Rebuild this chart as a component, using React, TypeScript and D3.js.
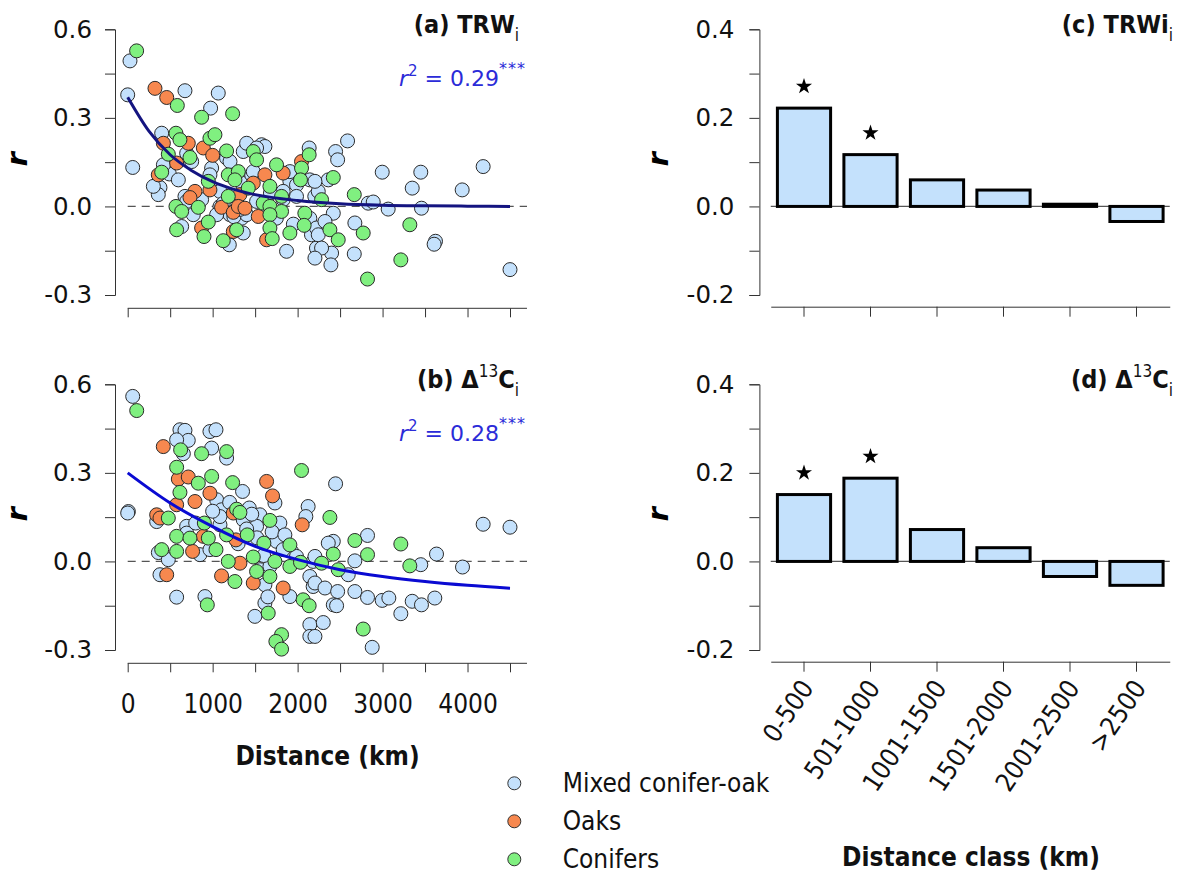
import { useEffect, useRef } from 'react';
import * as d3 from 'd3';

// panel (a) TRWi, distance (km) vs r
const trwMixed = [
  [27, 0.493], [0, 0.378], [59, 0.132], [674, 0.392], [1066, 0.384], [976, 0.333], [400, 0.248], [753, 0.152],
  [988, 0.13], [490, 0.11], [596, 0.09], [380, 0.064], [360, 0.04], [1164, 0.164], [1360, 0.186], [1576, 0.209],
  [1400, 0.214], [1341, 0.079], [1909, 0.085], [2136, 0.198], [2144, 0.09], [674, 0.034], [1517, 0.017],
  [1870, -0.152], [2163, -0.096], [2222, -0.141], [2202, 0.034], [635, -0.068], [1196, -0.13], [1360, -0.09],
  [1164, -0.017], [968, 0.107], [1086, 0.051], [1459, 0.107], [1615, 0.203], [1086, 0.0], [1204, -0.028],
  [1341, -0.04], [1830, 0.051], [1987, 0.073], [420, 0.141], [302, 0.068], [694, 0.017], [870, 0.023],
  [1987, 0.034], [2144, -0.04], [2222, -0.073], [772, -0.028], [1047, -0.028], [1400, -0.028], [1478, 0.118],
  [1909, 0.118], [1204, 0.152], [694, 0.18], [1125, 0.01], [1250, -0.035], [1320, -0.01], [1830, 0.023],
  [1517, 0.198], [1680, 0.045], [1750, -0.04], [1950, -0.06],
  [2588, 0.222], [2447, 0.186], [2471, 0.158], [2361, 0.09], [2243, 0.051], [2204, 0.085], [2996, 0.116],
  [3450, 0.116], [3349, 0.062], [3937, 0.056], [4184, 0.135], [2831, 0.011], [2890, 0.015], [3066, -0.009],
  [3458, -0.006], [2674, -0.056], [2400, -0.158], [2392, -0.198], [2667, -0.161], [3623, -0.118],
  [3607, -0.128], [4500, -0.214], [2420, -0.023], [2322, -0.051], [2243, -0.096], [2282, -0.141], [2204, -0.175],
];
const trwOaks = [
  [321, 0.4], [459, 0.369], [420, 0.214], [713, 0.214], [890, 0.198], [1000, 0.173], [576, 0.147], [360, 0.107],
  [1478, 0.079], [1615, 0.107], [1830, 0.113], [2046, 0.152], [792, 0.051], [733, 0.03], [968, 0.056],
  [1105, -0.003], [1243, -0.02], [1321, 0.04], [1302, 0.0], [1380, -0.006], [1537, -0.034], [1635, -0.113],
  [870, -0.073], [1243, -0.085],
];
const trwConifers = [
  [105, 0.527], [584, 0.342], [870, 0.302], [1235, 0.314], [568, 0.248], [615, 0.226], [733, 0.166], [968, 0.231],
  [1027, 0.243], [478, 0.177], [400, 0.116], [1164, 0.188], [1478, 0.186], [1517, 0.158], [1184, 0.107],
  [1302, 0.118], [1262, 0.09], [1752, 0.141], [1674, 0.068], [2136, 0.175], [2046, 0.13], [2034, 0.09],
  [949, 0.085], [1184, 0.034], [1419, 0.062], [1595, 0.011], [1674, 0.0], [1811, 0.034], [1811, -0.017],
  [1674, -0.028], [1674, -0.073], [1701, -0.109], [1909, -0.09], [2085, -0.023], [2077, -0.064], [568, 0.0],
  [635, -0.017], [831, -0.003], [576, -0.079], [949, -0.053], [898, -0.102], [1125, -0.116], [1282, -0.079],
  [2420, 0.098], [2667, 0.04], [2282, 0.023], [3321, -0.062], [2772, -0.09], [2380, -0.079], [2478, -0.113],
  [3215, -0.181], [2823, -0.246],
];
const trwFitKm = [0, 250, 500, 750, 1000, 1250, 1500, 2000, 2500, 3000, 3500, 4000, 4500];
const trwFitR = [0.37, 0.255, 0.175, 0.122, 0.084, 0.058, 0.04, 0.02, 0.009, 0.004, 0.002, 0.001, 0.0];

// panel (b) D13Ci
const d13Mixed = [
  [59, 0.559], [8, 0.169], [0, 0.164], [615, 0.446], [674, 0.444], [713, 0.41], [576, 0.412], [968, 0.44],
  [1039, 0.446], [655, 0.365], [988, 0.384], [1164, 0.35], [1733, 0.198], [1352, 0.237], [2124, 0.186],
  [2097, 0.152], [1047, 0.209], [1105, 0.175], [1431, 0.181], [1556, 0.158], [1791, 0.13], [341, 0.135],
  [694, 0.119], [1086, 0.124], [1752, 0.068], [1928, 0.034], [361, 0.03], [478, 0.006], [850, 0.023],
  [2183, 0.0], [380, -0.045], [1615, -0.079], [576, -0.121], [909, -0.119], [1615, -0.141], [1497, -0.186],
  [2144, -0.214], [2144, -0.254], [1909, -0.119], [1086, 0.152], [1360, 0.141], [1517, 0.119], [1830, 0.04],
  [1987, 0.017], [2144, -0.051], [2183, -0.085], [1556, -0.028], [1674, -0.017], [968, 0.04], [694, 0.096],
  [1400, 0.11], [1460, 0.16], [1520, 0.08], [1600, 0.02], [1700, 0.1], [1850, 0.09], [1650, -0.12],
  [1300, 0.06], [1000, 0.17], [800, 0.13], [1200, 0.2],
  [2447, 0.263], [2420, 0.068], [2361, 0.062], [2823, 0.088], [2674, 0.002], [2596, -0.045], [2204, 0.017],
  [3450, -0.011], [3635, 0.025], [3941, -0.019], [4184, 0.126], [4500, 0.116], [2204, -0.073], [2322, -0.09],
  [2471, -0.102], [2420, -0.147], [2459, -0.15], [2674, -0.102], [2823, -0.122], [2996, -0.132], [3074, -0.124],
  [3215, -0.177], [3349, -0.135], [3458, -0.147], [3615, -0.124], [2878, -0.291], [2302, -0.207], [2204, -0.254],
];
const d13Oaks = [
  [419, 0.389], [596, 0.279], [713, 0.286], [1635, 0.271], [1705, 0.222], [2054, 0.124], [576, 0.192],
  [792, 0.203], [968, 0.231], [341, 0.158], [380, 0.147], [890, 0.085], [1243, 0.164], [1274, 0.073],
  [764, 0.034], [1321, -0.006], [459, -0.045], [1105, -0.049], [1478, -0.073], [1830, -0.09],
];
const d13Conifers = [
  [106, 0.511], [623, 0.378], [870, 0.365], [1164, 0.372], [576, 0.319], [831, 0.265], [988, 0.288],
  [1235, 0.267], [2046, 0.308], [615, 0.234], [1282, 0.177], [1321, 0.166], [1674, 0.139], [478, 0.147],
  [576, 0.085], [733, 0.079], [902, 0.13], [949, 0.079], [1164, 0.09], [1407, 0.09], [1603, 0.062],
  [1909, 0.056], [400, 0.04], [576, 0.034], [1039, 0.04], [1184, 0.0], [1478, 0.015], [1733, 0.0],
  [1909, -0.017], [2034, -0.003], [1517, -0.034], [1674, -0.051], [1262, -0.068], [937, -0.147],
  [1654, -0.175], [2065, -0.13], [2136, -0.15], [1811, -0.248], [1744, -0.271], [1811, -0.297],
  [2380, 0.149], [2420, 0.025], [2674, 0.071], [2823, 0.023], [3215, 0.059], [2478, -0.028], [2282, -0.006],
  [3321, -0.015], [2772, -0.229],
];
const d13FitKm = [0, 500, 1000, 1500, 2000, 2500, 3000, 3500, 4000, 4500];
const d13FitR = [0.3, 0.198, 0.118, 0.051, 0.006, -0.028, -0.051, -0.068, -0.081, -0.091];

// panels (c) and (d), distance classes
const classes = ['0-500', '501-1000', '1001-1500', '1501-2000', '2001-2500', '>2500'];
const trwClassR = [0.222, 0.117, 0.06, 0.037, 0.005, -0.034];
const trwClassSig = [true, true, false, false, false, false];
const d13ClassR = [0.151, 0.188, 0.072, 0.031, -0.034, -0.054];
const d13ClassSig = [true, true, false, false, false, false];

const groupNames = ['Mixed conifer-oak', 'Oaks', 'Conifers'];
const groupColors = ['#c4e1fc', '#f7884f', '#80f080'];

const SANS = "'DejaVu Sans', sans-serif";
const COND = "'DejaVu Sans Condensed', 'DejaVu Sans', sans-serif";

function App() {
  const ref = useRef<SVGSVGElement>(null);

  useEffect(() => {
    const svg = d3.select(ref.current);
    svg.selectAll('*').remove();

    const x = d3.scaleLinear().domain([0, 4500]).range([127.7, 510]);
    const band = d3.scaleBand<string>().domain(classes).range([770.75, 1169.75]).paddingInner(0.2).paddingOuter(0.1);

    const styleAxis = (g: any) => {
      g.selectAll('path, line').attr('stroke', '#333').attr('stroke-width', 1);
    };

    const yTitle = (xBase: number, yMid: number) => {
      svg.append('text').attr('transform', `translate(${xBase},${yMid}) rotate(-90)`).attr('text-anchor', 'middle')
        .attr('font-family', SANS).attr('font-weight', 'bold').attr('font-style', 'italic').attr('font-size', 29)
        .text('r')
    }

    const scatter = (top: number, groups: number[][][], fitKm: number[], fitR: number[], fitColor: string,
      r2: string, bottom: boolean) => {
      const y = d3.scaleLinear().domain([-0.3, 0.6]).range([top + 265.7, top]);
      const labeled = [-0.3, 0, 0.3, 0.6];

      const ya = svg.append('g').attr('transform', 'translate(115,0)')
        .call(d3.axisLeft(y).tickValues([-0.3, -0.15, 0, 0.15, 0.3, 0.45, 0.6]).tickSize(10).tickPadding(13)
          .tickFormat((d: any) => labeled.some(v => Math.abs(v - d) < 1e-9) ? (+d).toFixed(1) : ''))
      ya.call(styleAxis)
      ya.selectAll('text').attr('font-family', SANS).attr('font-size', 24.5).attr('fill', '#111')

      const axY = top + 279
      svg.append('line').attr('x1', x(0)).attr('x2', x(4700)).attr('y1', axY).attr('y2', axY)
        .attr('stroke', '#333')
      const xa = svg.append('g').attr('transform', `translate(0,${axY})`)
        .call(d3.axisBottom(x).tickValues(d3.range(0, 4501, 500)).tickSize(9).tickPadding(22)
          .tickFormat((d: any) => bottom && d % 1000 === 0 ? String(d) : ''))
      xa.select('.domain').remove()
      xa.call(styleAxis)
      xa.selectAll('text').attr('font-family', COND).attr('font-size', 26).attr('fill', '#111')

      svg.append('line').attr('x1', x(0)).attr('x2', x(4700)).attr('y1', y(0)).attr('y2', y(0))
        .attr('stroke', '#555').attr('stroke-width', 1.2).attr('stroke-dasharray', '8,6')

      groups.forEach((pts, i) => {
        svg.append('g').selectAll('circle').data(pts).enter().append('circle')
          .attr('cx', d => x(d[0])).attr('cy', d => y(d[1])).attr('r', 7)
          .attr('fill', groupColors[i]).attr('stroke', '#2a2a2a').attr('stroke-width', 1)
      })

      const line = d3.line<number>().x((d, i) => x(fitKm[i])).y(d => y(d)).curve(d3.curveMonotoneX)
      svg.append('path').attr('d', line(fitR)).attr('fill', 'none').attr('stroke', fitColor).attr('stroke-width', 3)

      const t = svg.append('text').attr('x', 526).attr('y', top + 56.5).attr('text-anchor', 'end')
        .attr('font-family', SANS).attr('font-size', 22).attr('fill', '#2b2bd8')
      t.append('tspan').attr('font-style', 'italic').text('r')
      t.append('tspan').attr('font-size', 15).attr('dy', -10).text('2')
      t.append('tspan').attr('dy', 10).text(' = ' + r2)
      t.append('tspan').attr('font-size', 16).attr('dy', -12).attr('letter-spacing', 1).text('***')

      yTitle(27, top + 130)
      return y
    }

    const bars = (top: number, vals: number[], sig: boolean[], bottom: boolean) => {
      const y = d3.scaleLinear().domain([-0.2, 0.4]).range([top + 265.7, top]);
      const labeled = [-0.2, 0, 0.2, 0.4];
      const ya = svg.append('g').attr('transform', 'translate(759.4,0)')
        .call(d3.axisLeft(y).tickValues([-0.2, -0.1, 0, 0.1, 0.2, 0.3, 0.4]).tickSize(10).tickPadding(15)
          .tickFormat((d: any) => labeled.some(v => Math.abs(v - d) < 1e-9) ? (+d).toFixed(1) : ''))
      ya.call(styleAxis)
      ya.selectAll('text').attr('font-family', SANS).attr('font-size', 24.5).attr('fill', '#111')

      const axY = top + 277.4
      const xa = svg.append('g').attr('transform', `translate(0,${axY})`)
        .call(d3.axisBottom(band).tickSize(10).tickSizeOuter(0).tickFormat(() => ''))
      xa.call(styleAxis)

      svg.append('line').attr('x1', band.range()[0]).attr('x2', band.range()[1]).attr('y1', y(0)).attr('y2', y(0))
        .attr('stroke', '#555').attr('stroke-width', 1.2)

      svg.append('g').selectAll('rect').data(vals).enter().append('rect')
        .attr('x', (d, i) => band(classes[i])!).attr('width', band.bandwidth())
        .attr('y', d => y(Math.max(0, d))).attr('height', d => Math.abs(y(d) - y(0)))
        .attr('fill', '#c4e1fc').attr('stroke', '#000').attr('stroke-width', 3)

      svg.append('g').selectAll('path').data(vals.filter((d, i) => sig[i])).enter().append('path')
        .attr('d', d3.symbol(d3.symbolStar).size(80)())
        .attr('transform', d => `translate(${band(classes[vals.indexOf(d)])! + band.bandwidth() / 2},${y(d + 0.049)})`)
        .attr('fill', '#000')

      yTitle(668, top + 130)

      if (bottom) {
        svg.append('g').selectAll('text').data(classes).enter().append('text')
          .attr('transform', d => `translate(${band(d)! + band.bandwidth() / 2 + 3},${axY + 21}) rotate(-56)`)
          .attr('text-anchor', 'end').attr('dy', '0.35em')
          .attr('font-family', COND).attr('font-size', 26).attr('fill', '#111').text(d => d)
      }
    }

    // main text, optional superscript and second main part, then subscript
    const title = (xEnd: number, yBase: number, main: string, sup: string, main2: string, sub: string) => {
      const t = svg.append('text').attr('x', xEnd).attr('y', yBase).attr('text-anchor', 'end')
        .attr('font-family', COND).attr('font-weight', 'bold').attr('font-size', 25).attr('fill', '#111')
      t.append('tspan').text(main)
      if (sup) {
        t.append('tspan').attr('font-size', 17).attr('dy', -11).attr('font-weight', 'normal').text(sup)
        t.append('tspan').attr('dy', 11).text(main2)
      }
      t.append('tspan').attr('font-size', 17).attr('dy', 8).attr('font-weight', 'normal').text(sub)
    }

    scatter(29.3, [trwMixed, trwOaks, trwConifers], trwFitKm, trwFitR, '#141480', '0.29', false)
    scatter(384.3, [d13Mixed, d13Oaks, d13Conifers], d13FitKm, d13FitR, '#0a0ad2', '0.28', true)
    bars(29.3, trwClassR, trwClassSig, false)
    bars(384.3, d13ClassR, d13ClassSig, true)

    title(519, 33, '(a) TRW', '', '', 'i')
    title(519, 388, '(b) \u0394', '13', 'C', 'i')
    title(1173, 33, '(c) TRWi', '', '', 'i')
    title(1173, 388, '(d) \u0394', '13', 'C', 'i')

    svg.append('text').attr('x', 327.5).attr('y', 765).attr('text-anchor', 'middle')
      .attr('font-family', COND).attr('font-weight', 'bold').attr('font-size', 26).attr('fill', '#111')
      .text('Distance (km)')
    svg.append('text').attr('x', 971).attr('y', 866).attr('text-anchor', 'middle')
      .attr('font-family', COND).attr('font-weight', 'bold').attr('font-size', 26).attr('fill', '#111')
      .text('Distance class (km)')

    const leg = svg.append('g').selectAll('g').data(groupNames).enter().append('g')
      .attr('transform', (d, i) => `translate(514.3,${783.3 + i * 38})`)
    leg.append('circle').attr('r', 6.5).attr('fill', (d, i) => groupColors[i]).attr('stroke', '#333')
    leg.append('text').attr('x', 48.4).attr('dy', '0.35em').attr('font-family', COND).attr('font-size', 26)
      .attr('fill', '#111').text(d => d)
    // eslint-disable-next-line
  }, [])

  return (
    <svg ref={ref} width={1184} height={881}
      style={{ position: 'absolute', left: 0, top: 0, background: '#fff' }} />
  )
}

export default App
